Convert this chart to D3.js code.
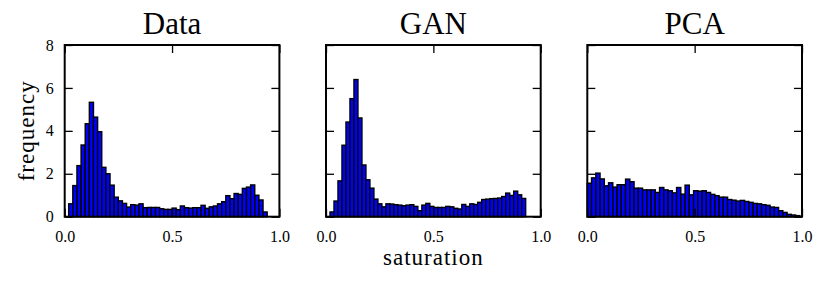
<!DOCTYPE html>
<html><head><meta charset="utf-8">
<script src="https://cdn.jsdelivr.net/npm/d3@7"></script>
<style>body{margin:0;background:#fff}svg{display:block}</style>
</head><body>
<script>
// ---- data ----
const panelTitles = ["Data", "GAN", "PCA"];
const binStarts = [0.0185, 0.0186, 0.0];
const binEnds = [0.943, 0.93, 0.99];
const dataValues = [0.6,1.45,2.38,3.34,4.33,5.33,4.64,3.96,2.3,2.0,1.47,0.91,0.74,0.62,
  0.45,0.56,0.54,0.6,0.42,0.43,0.43,0.43,0.37,0.34,0.34,0.4,0.33,0.5,0.42,0.4,0.42,0.42,0.53,0.39,0.46,0.5,0.6,
  0.7,0.98,0.84,1.08,1.04,1.32,1.38,1.48,1.0,0.78,0.22];
const ganValues = [0.22,0.73,1.67,3.33,4.41,5.5,6.39,4.6,2.41,1.72,1.33,0.82,0.6,0.46,
  0.6,0.59,0.56,0.54,0.51,0.54,0.56,0.48,0.28,0.54,0.62,0.48,0.43,0.43,0.43,0.48,0.46,0.39,0.36,0.57,0.48,0.6,0.57,
  0.67,0.8,0.82,0.84,0.85,0.87,0.94,1.1,0.99,1.19,1.02,0.85];
const pcaValues = [1.56,1.81,2.03,1.76,1.44,1.58,1.38,1.49,1.49,1.75,1.63,1.33,1.33,1.25,1.25,1.25,1.13,1.36,1.25,1.21,
  1.11,1.36,1.05,1.47,1.02,1.21,1.19,1.21,1.13,1.04,0.98,0.91,0.91,0.8,0.77,0.73,0.76,0.71,0.67,0.62,
  0.6,0.56,0.53,0.45,0.43,0.28,0.2,0.11,0.08,0.05];
const seriesValues = [dataValues, ganValues, pcaValues];
const xTicks = [0, 0.5, 1.0];
const yTicks = [0, 2, 4, 6, 8];
const xLabel = "saturation", yLabel = "frequency";

// ---- layout ----
const W = 830, H = 286;
const panelLeft = [64.7, 326, 587.3], panelW = 214.7;
const plotTop = 45, plotBottom = 216.7;
const font = "'Liberation Serif', 'Times New Roman', serif";

const svg = d3.select("body").append("svg").attr("width", W).attr("height", H);
const y = d3.scaleLinear().domain([0, 8]).range([plotBottom, plotTop]);

seriesValues.forEach((vals, p) => {
  const x = d3.scaleLinear().domain([0, 1]).range([panelLeft[p], panelLeft[p] + panelW]);
  const bw = (binEnds[p] - binStarts[p]) / vals.length;
  const bins = vals.map((v, i) => ({x0: binStarts[p] + i * bw, x1: binStarts[p] + (i + 1) * bw, v}));
  const g = svg.append("g");
  g.selectAll("rect").data(bins).join("rect")
    .attr("x", d => x(d.x0)).attr("width", d => x(d.x1) - x(d.x0))
    .attr("y", d => y(d.v)).attr("height", d => y(0) - y(d.v))
    .attr("fill", "#0000ff").attr("stroke", "#000").attr("stroke-width", 1.4);

  const ax = (gen, tr) => {
    const a = g.append("g").attr("transform", tr).call(gen);
    a.select(".domain").remove();
    a.selectAll(".tick line").attr("stroke", "#000").attr("stroke-width", 1.3);
    return a;
  };
  const bx = ax(d3.axisBottom(x).tickValues(xTicks).tickSize(-8).tickPadding(14).tickFormat(d3.format(".1f")), `translate(0,${plotBottom})`);
  bx.selectAll("text").attr("font-family", font).attr("font-size", 16).attr("fill", "#000");
  ax(d3.axisTop(x).tickValues(xTicks).tickSize(-8).tickFormat(""), `translate(0,${plotTop})`);
  const ly = ax(d3.axisLeft(y).tickValues(yTicks).tickSize(-8).tickPadding(11).tickFormat(p === 0 ? d3.format("d") : ""), `translate(${panelLeft[p]},0)`);
  ly.selectAll("text").attr("font-family", font).attr("font-size", 16).attr("fill", "#000");
  ax(d3.axisRight(y).tickValues(yTicks).tickSize(-8).tickFormat(""), `translate(${panelLeft[p] + panelW},0)`);

  g.append("rect").attr("x", panelLeft[p]).attr("y", plotTop).attr("width", panelW).attr("height", plotBottom - plotTop)
    .attr("fill", "none").attr("stroke", "#000").attr("stroke-width", 2);

  svg.append("text").attr("x", panelLeft[p] + panelW / 2).attr("y", 34)
    .attr("text-anchor", "middle").attr("font-family", font)
    .attr("font-size", 31).text(panelTitles[p]);
});

svg.append("text").attr("x", panelLeft[1] + panelW / 2).attr("y", 265)
  .attr("text-anchor", "middle").attr("font-family", font).attr("font-size", 23)
  .attr("letter-spacing", 1).text(xLabel);
svg.append("text").attr("transform", `translate(34,${(plotTop + plotBottom) / 2}) rotate(-90)`)
  .attr("text-anchor", "middle").attr("font-family", font).attr("font-size", 23)
  .attr("letter-spacing", 1).text(yLabel);
</script>
</body></html>
